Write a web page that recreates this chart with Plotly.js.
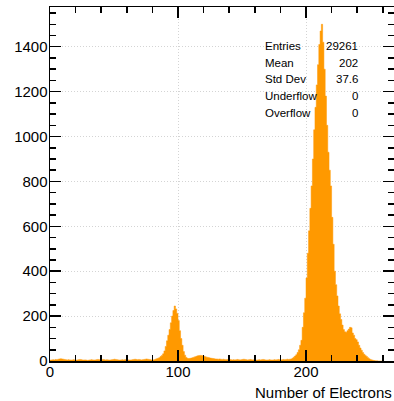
<!DOCTYPE html>
<html>
<head>
<meta charset="utf-8">
<script src="https://cdn.plot.ly/plotly-3.0.1.min.js"></script>
<style>html,body{margin:0;padding:0;background:#fff;}#chart{width:394px;height:401px;}</style>
</head>
<body>
<div id="chart"></div>
<script>
// Histogram: bins of width 1 starting at 0
const binStart = 0;
const binWidth = 1;
const counts = [
  // 0-79
  4,5,6,5,7,6,8,9,10,9, 8,7,6,5,6,5,4,5,6,5, 4,5,6,7,6,5,4,5,4,3, 4,5,6,5,4,5,6,7,6,5,
  6,7,6,5,6,5,4,5,6,7, 8,7,6,5,4,5,6,5,6,7, 6,5,4,5,6,7,8,7,6,7, 6,5,6,7,8,9,8,7,6,5,
  // 80-129
  5,6,8,10,12,15,20,25,32,45, 65,90,115,140,170,200,225,245,232,212,
  180,135,100,70,42,26,16,12,11,12, 13,15,17,19,21,23,24,25,24,23,
  21,19,17,16,14,13,12,11,10,9,
  // 130-187
  9,8,9,8,7,8,7,6,7,6, 7,6,5,6,5,6,7,6,5,6, 7,8,7,6,5,6,7,6,5,6,
  5,4,5,6,5,6,7,6,5,4, 5,6,5,4,5,6,5,6,7,6, 5,6,7,6,7,8,7,8,
  // 188-259
  9,12,17,22,28,38,50,70,92,150, 215,280,370,480,580,680,780,900,1030,1130,
  1230,1320,1410,1470,1500,1420,1300,1180,1050,930, 850,780,640,520,400,340,290,245,210,185,
  160,140,130,128,135,142,150,148,125,115, 100,95,85,70,58,48,38,30,25,20,
  15,10,7,5,3,2,1,1,0,0,0,0
];
const statLabels = ["Entries", "Mean", "Std Dev", "Underflow", "Overflow"];
const statValues = ["29261", "202", "37.6", "0", "0"];
const xTitle = "Number of Electrons";

// step outline (left edges + final right edge)
const xs = [], ys = [];
for (let i = 0; i < counts.length; i++) { xs.push(binStart + i * binWidth); ys.push(counts[i]); }
xs.push(binStart + counts.length * binWidth); ys.push(counts[counts.length - 1]);

const orange = 'rgb(255,153,0)';
const trace = {
  type: 'scatter', mode: 'lines', x: xs, y: ys,
  line: {shape: 'hv', color: orange, width: 0.5},
  fill: 'tozeroy', fillcolor: orange, hoverinfo: 'skip'
};

const font = {family: 'Liberation Sans, Arial, sans-serif', size: 15, color: '#000'};
const axisCommon = {
  ticks: 'inside', ticklen: 11, tickwidth: 1.5, tickcolor: '#000',
  showline: true, linecolor: '#000', linewidth: 1.5, mirror: 'allticks',
  showgrid: true, gridcolor: '#d4d4d4', griddash: '1px,2px', gridwidth: 1,
  zeroline: false, tickfont: font, fixedrange: true
};

const rowY = [0.8898, 0.8418, 0.7952, 0.7486, 0.7017];
const annotations = [];
statLabels.forEach((t, i) => {
  annotations.push({xref: 'paper', yref: 'paper', x: 0.6192, y: rowY[i], xanchor: 'left', yanchor: 'middle',
    text: t, showarrow: false, font: {family: font.family, size: 11.5, color: '#000'}});
  annotations.push({xref: 'paper', yref: 'paper', x: 0.9012, y: rowY[i], xanchor: 'right', yanchor: 'middle',
    text: statValues[i], showarrow: false, font: {family: font.family, size: 11.5, color: '#000'}});
});
annotations.push({xref: 'paper', yref: 'paper', x: 1, y: -0.0895, xanchor: 'right', yanchor: 'middle',
  text: xTitle, showarrow: false, font: font});

const layout = {
  width: 394, height: 401,
  margin: {l: 50, r: 0, t: 7, b: 40, pad: 0},
  paper_bgcolor: '#fff', plot_bgcolor: '#fff', showlegend: false,
  xaxis: Object.assign({}, axisCommon, {
    range: [0, 268.75], tick0: 0, dtick: 100, ticklabelstandoff: -4,
    minor: {tick0: 0, dtick: 20, ticks: 'inside', ticklen: 6, tickwidth: 1.5, tickcolor: '#000', showgrid: false}
  }),
  yaxis: Object.assign({}, axisCommon, {
    range: [0, 1577], tick0: 0, dtick: 200, ticklabelstandoff: -2,
    minor: {tick0: 0, dtick: 50, ticks: 'inside', ticklen: 6, tickwidth: 1.5, tickcolor: '#000', showgrid: false}
  }),
  annotations: annotations
};

Plotly.newPlot('chart', [trace], layout, {staticPlot: true, displayModeBar: false});
</script>
</body>
</html>
